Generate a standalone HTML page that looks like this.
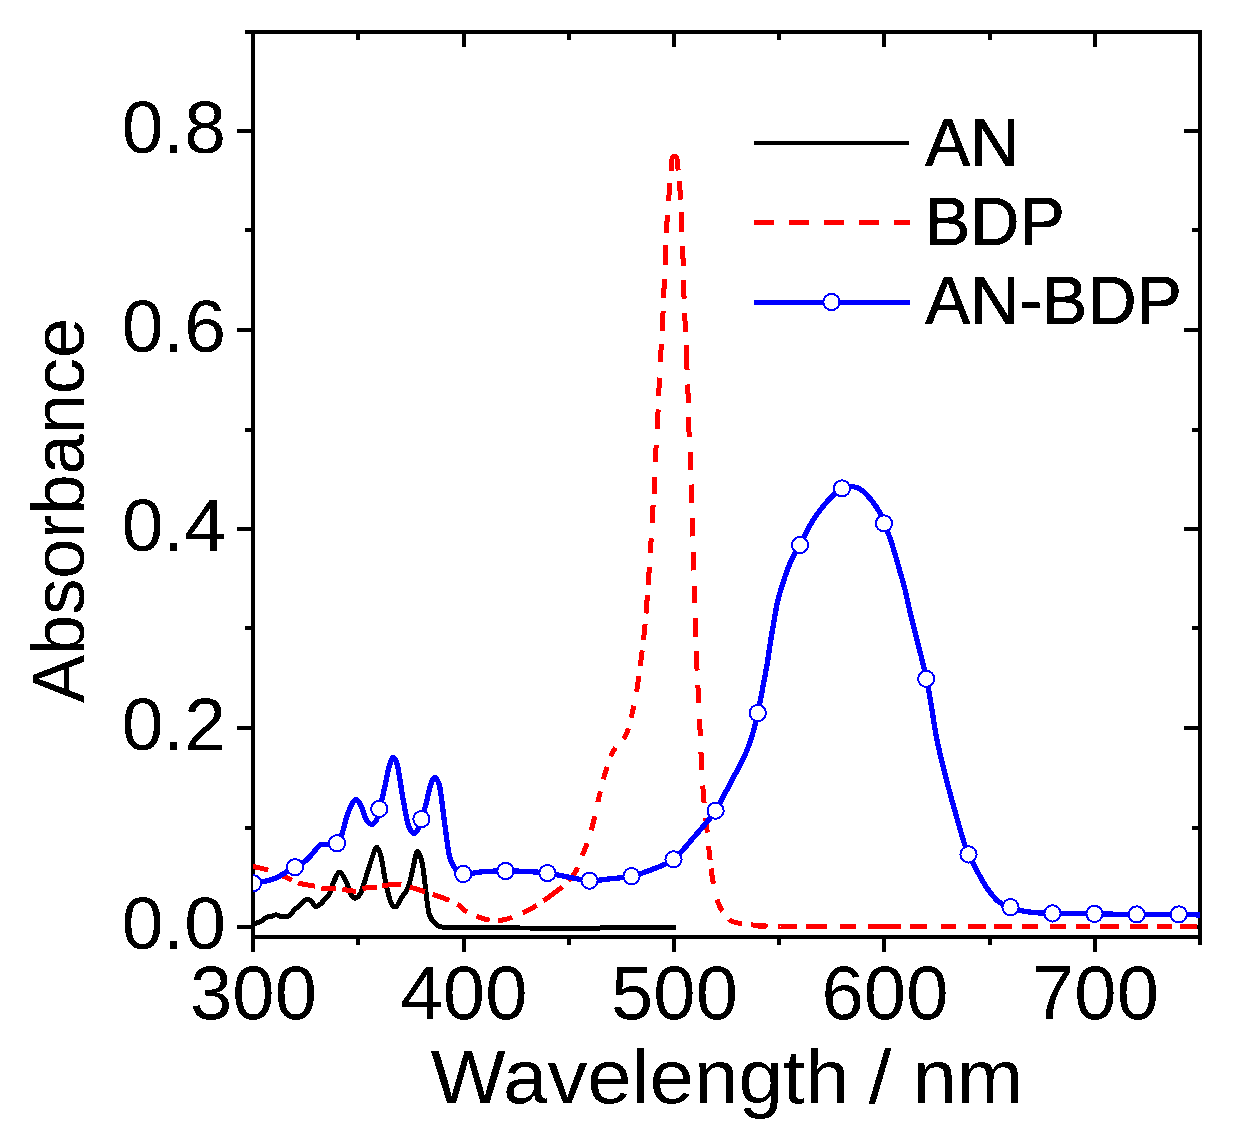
<!DOCTYPE html>
<html><head><meta charset="utf-8"><title>Absorbance spectra</title>
<style>html,body{margin:0;padding:0;background:#fff;width:1260px;height:1138px;overflow:hidden}
svg{display:block;font-family:"Liberation Sans",sans-serif}</style></head>
<body>
<svg width="1260" height="1138" viewBox="0 0 1260 1138" shape-rendering="crispEdges">
<defs><clipPath id="pa"><rect x="253" y="32" width="947" height="905"/></clipPath><filter id="bin" x="0" y="0" width="1260" height="1138" filterUnits="userSpaceOnUse"><feComponentTransfer><feFuncA type="discrete" tableValues="0 1"/></feComponentTransfer></filter></defs>
<rect width="1260" height="1138" fill="#fff"/>
<g fill="#000">
<rect x="251" y="30" width="951" height="4"/>
<rect x="251" y="935" width="951" height="4"/>
<rect x="251" y="30" width="4" height="909"/>
<rect x="1198" y="30" width="4" height="909"/>
<rect x="251" y="939" width="4" height="13"/>
<rect x="251" y="34" width="4" height="13"/>
<rect x="356" y="939" width="4" height="6"/>
<rect x="356" y="34" width="4" height="6"/>
<rect x="462" y="939" width="4" height="13"/>
<rect x="462" y="34" width="4" height="13"/>
<rect x="567" y="939" width="4" height="6"/>
<rect x="567" y="34" width="4" height="6"/>
<rect x="672" y="939" width="4" height="13"/>
<rect x="672" y="34" width="4" height="13"/>
<rect x="777" y="939" width="4" height="6"/>
<rect x="777" y="34" width="4" height="6"/>
<rect x="882" y="939" width="4" height="13"/>
<rect x="882" y="34" width="4" height="13"/>
<rect x="988" y="939" width="4" height="6"/>
<rect x="988" y="34" width="4" height="6"/>
<rect x="1093" y="939" width="4" height="13"/>
<rect x="1093" y="34" width="4" height="13"/>
<rect x="1198" y="939" width="4" height="6"/>
<rect x="1198" y="34" width="4" height="6"/>
<rect x="237" y="925" width="14" height="4"/>
<rect x="1184" y="925" width="14" height="4"/>
<rect x="245" y="826" width="6" height="4"/>
<rect x="1192" y="826" width="6" height="4"/>
<rect x="237" y="726" width="14" height="4"/>
<rect x="1184" y="726" width="14" height="4"/>
<rect x="245" y="626" width="6" height="4"/>
<rect x="1192" y="626" width="6" height="4"/>
<rect x="237" y="527" width="14" height="4"/>
<rect x="1184" y="527" width="14" height="4"/>
<rect x="245" y="428" width="6" height="4"/>
<rect x="1192" y="428" width="6" height="4"/>
<rect x="237" y="328" width="14" height="4"/>
<rect x="1184" y="328" width="14" height="4"/>
<rect x="245" y="228" width="6" height="4"/>
<rect x="1192" y="228" width="6" height="4"/>
<rect x="237" y="129" width="14" height="4"/>
<rect x="1184" y="129" width="14" height="4"/>
<rect x="245" y="30" width="6" height="4"/>
<rect x="1192" y="30" width="6" height="4"/>
</g>
<g clip-path="url(#pa)" fill="none" stroke-linejoin="round">
<path d="M253.5,924.0 C254.7,923.5 258.6,922.4 260.8,921.3 C263.0,920.2 264.7,918.4 266.5,917.5 C268.3,916.6 270.0,916.6 271.6,916.2 C273.2,915.8 274.5,914.9 276.0,914.9 C277.5,914.9 278.9,915.9 280.5,916.2 C282.1,916.5 284.1,916.6 285.6,916.5 C287.1,916.4 287.9,916.7 289.4,915.6 C290.9,914.5 292.7,911.5 294.4,909.8 C296.1,908.1 297.8,907.0 299.5,905.4 C301.2,903.8 303.2,901.3 304.6,900.3 C306.0,899.3 306.9,899.5 308.0,899.6 C309.1,899.7 309.9,899.7 311.0,900.8 C312.1,901.9 313.6,905.1 314.6,906.0 C315.7,906.9 316.2,906.6 317.3,906.2 C318.4,905.8 319.6,904.9 321.1,903.5 C322.6,902.1 324.8,899.4 326.2,897.8 C327.6,896.2 328.0,896.9 329.4,894.0 C330.8,891.1 332.6,884.3 334.3,880.6 C336.0,876.9 337.7,872.0 339.6,872.0 C341.5,872.0 343.9,876.8 345.8,880.6 C347.7,884.4 349.4,891.7 351.0,894.6 C352.6,897.5 353.5,898.4 355.1,898.1 C356.7,897.8 358.9,896.4 360.7,892.9 C362.5,889.4 364.1,882.9 366.0,877.0 C367.9,871.1 370.4,862.7 372.1,857.7 C373.9,852.7 375.0,847.5 376.5,847.2 C378.0,846.9 379.4,850.4 380.9,856.0 C382.4,861.6 383.7,873.0 385.3,880.6 C386.9,888.2 388.9,897.3 390.6,901.7 C392.4,906.1 394.1,907.5 395.8,906.9 C397.6,906.3 399.1,901.3 401.1,898.1 C403.2,894.9 406.1,892.9 408.1,887.6 C410.2,882.3 411.9,872.5 413.4,866.5 C414.9,860.5 415.7,852.0 417.2,851.4 C418.7,850.8 420.8,856.7 422.2,863.0 C423.6,869.3 424.5,880.9 425.7,889.4 C426.9,897.9 427.4,908.1 429.2,914.0 C431.0,919.9 433.9,922.3 436.3,924.5 C438.7,926.7 437.8,926.6 443.3,927.1 C448.9,927.6 456.8,927.5 469.6,927.6 C482.4,927.8 498.3,927.9 520.0,928.0 C541.7,928.1 574.0,928.1 600.0,928.0 C626.0,927.9 663.3,927.6 676.0,927.5" stroke="#000" stroke-width="5" stroke-linecap="butt"/>
<path d="M253.0,866.5 253.5,866.6 254.0,866.7 254.5,866.8 255.0,866.9 255.4,867.0 255.9,867.1 256.4,867.2 256.9,867.3 257.4,867.4 257.9,867.5 258.4,867.6 258.9,867.7 259.4,867.8 259.8,868.0 260.3,868.1 260.8,868.2 261.3,868.3 261.8,868.4 262.3,868.5 262.8,868.6 263.3,868.8 263.7,868.9 264.2,869.0 264.7,869.1 265.2,869.3 265.7,869.4 266.1,869.5 266.6,869.7 267.1,869.8 267.6,870.0 268.1,870.2M281.1,875.3 281.5,875.5 282.0,875.7 282.5,875.9 282.9,876.1 283.4,876.3 283.8,876.5 284.3,876.7 284.8,876.9 285.2,877.0 285.7,877.2 286.1,877.4 286.6,877.6 287.0,877.9 287.5,878.1 288.0,878.3 288.4,878.5 288.9,878.7 289.3,878.9 289.8,879.1 290.2,879.3 290.7,879.6 291.1,879.8 291.6,880.0 292.0,880.2M298.0,882.8 298.5,883.0 298.9,883.1 299.4,883.3 299.9,883.4 300.4,883.5 300.8,883.7 301.3,883.8 301.8,883.9 302.3,884.0 302.8,884.1 303.3,884.2 303.8,884.3 304.3,884.4 304.8,884.5 305.3,884.5 305.8,884.6 306.3,884.7 306.7,884.8 307.2,884.8 307.7,884.9 308.2,885.0 308.7,885.0 309.2,885.1 309.7,885.2 310.2,885.3 310.7,885.3 311.2,885.4 311.7,885.5 312.2,885.6 312.7,885.7 313.2,885.8 313.7,885.9 314.1,886.0 314.6,886.1 315.1,886.2M321.3,888.1 321.8,888.2 322.3,888.3 322.8,888.4 323.3,888.4 323.8,888.5 324.3,888.5 324.8,888.6 325.3,888.6 325.8,888.6 326.3,888.6 326.8,888.6 327.3,888.6 327.8,888.6 328.3,888.6 328.8,888.6 329.3,888.6 329.8,888.5 330.3,888.5 330.8,888.5 331.3,888.5 331.8,888.4 332.3,888.4 332.8,888.4 333.3,888.4 333.8,888.4 334.3,888.4 334.8,888.4 335.3,888.4 335.8,888.4M342.2,889.1 342.7,889.2 343.2,889.3 343.7,889.4 344.2,889.5 344.7,889.6 345.2,889.7 345.7,889.8 346.2,889.9 346.7,890.0 347.2,890.1 347.6,890.2 348.1,890.2 348.6,890.3 349.1,890.4 349.6,890.5 350.1,890.6 350.6,890.7 351.1,890.8 351.6,890.8 352.1,890.9 352.6,890.9 353.1,891.0 353.6,891.0 354.1,891.1 354.6,891.1 355.1,891.1 355.6,891.1M362.7,889.0 363.2,888.8 363.6,888.6 364.1,888.4 364.6,888.2 365.0,888.1 365.5,887.9 366.0,887.8 366.5,887.7 367.0,887.6 367.5,887.6 368.0,887.5 368.5,887.5 369.0,887.5 369.5,887.5 370.0,887.5 370.5,887.5 371.0,887.5 371.5,887.5 372.0,887.5 372.5,887.5 373.0,887.5 373.5,887.4 374.0,887.4 374.5,887.3 375.0,887.3 375.5,887.2 376.0,887.1 376.5,887.0 376.9,887.0M381.9,886.0 382.4,885.9 382.8,885.9 383.3,885.8 383.8,885.7 384.3,885.6 384.8,885.5 385.3,885.4 385.8,885.3 386.3,885.3 386.8,885.2 387.3,885.1 387.8,885.0 388.3,884.9 388.8,884.9 389.3,884.8 389.8,884.7 390.3,884.7 390.7,884.6 391.2,884.6 391.7,884.5 392.2,884.5 392.7,884.4 393.2,884.3 393.7,884.3 394.2,884.2 394.7,884.2 395.2,884.1 395.7,884.1 396.2,884.1 396.7,884.1 397.2,884.1 397.7,884.1 398.2,884.2 398.7,884.2 399.2,884.3 399.7,884.3 400.2,884.4 400.7,884.5 401.2,884.6M409.8,887.0 410.3,887.2 410.8,887.3 411.3,887.5 411.8,887.6 412.2,887.8 412.7,887.9 413.2,888.0 413.7,888.2 414.2,888.3 414.6,888.5 415.1,888.6 415.6,888.8 416.1,888.9 416.6,889.1 417.0,889.2 417.5,889.4 418.0,889.5 418.5,889.7 418.9,889.8 419.4,890.0 419.9,890.1 420.4,890.3 420.8,890.4 421.3,890.6 421.8,890.7 422.3,890.9 422.7,891.0 423.2,891.2 423.7,891.3 424.2,891.5 424.6,891.7 425.1,891.8M432.7,894.3 433.2,894.5 433.7,894.7 434.1,894.8 434.6,895.0 435.1,895.1 435.6,895.3 436.0,895.5 436.5,895.6 437.0,895.8 437.4,896.0 437.9,896.1 438.4,896.3 438.9,896.5 439.3,896.6 439.8,896.8 440.3,897.0 440.7,897.1 441.2,897.3 441.7,897.5 442.1,897.7 442.6,897.8 443.1,898.0 443.5,898.2 444.0,898.4 444.5,898.6 444.9,898.7 445.4,898.9 445.9,899.1 446.3,899.3 446.8,899.5 447.3,899.7 447.7,899.8 448.2,900.0 448.7,900.2 449.1,900.4M457.2,904.3 457.7,904.5 458.1,904.8 458.5,905.1 458.9,905.4 459.3,905.7 459.7,906.0 460.1,906.3 460.4,906.6 460.8,907.0 461.2,907.3 461.5,907.7 461.9,908.0 462.3,908.4 462.6,908.7 463.0,909.0 463.4,909.4 463.8,909.7 464.2,910.0 464.6,910.3 465.0,910.6 465.4,910.8 465.8,911.1 466.3,911.3 466.7,911.6 467.1,911.8M476.6,916.3 477.1,916.5 477.6,916.7 478.0,916.9 478.5,917.0 479.0,917.2 479.4,917.4 479.9,917.6 480.4,917.7 480.8,917.9 481.3,918.1 481.8,918.2 482.3,918.4 482.7,918.5 483.2,918.7 483.7,918.8 484.2,918.9 484.7,919.1 485.2,919.2 485.6,919.3 486.1,919.4 486.6,919.5 487.1,919.6 487.6,919.8 488.1,919.9 488.6,919.9 489.1,920.0 489.6,920.1M498.0,920.6 498.5,920.5 499.0,920.5 499.5,920.4 500.0,920.4 500.5,920.3 501.0,920.3 501.5,920.2 502.0,920.1 502.5,920.0 503.0,919.9 503.5,919.8 504.0,919.7 504.4,919.6 504.9,919.5 505.4,919.4 505.9,919.3 506.4,919.1 506.9,919.0 507.4,918.9 507.8,918.7 508.3,918.6 508.8,918.4 509.3,918.3 509.7,918.1 510.2,918.0 510.7,917.8 511.2,917.6 511.6,917.5 512.1,917.3M522.7,912.9 523.2,912.7 523.6,912.5 524.1,912.3 524.5,912.1 525.0,911.9 525.4,911.6 525.9,911.4 526.3,911.2 526.8,911.0 527.2,910.8 527.7,910.5 528.1,910.3 528.6,910.1 529.0,909.8 529.5,909.6 529.9,909.4 530.3,909.1 530.8,908.9 531.2,908.6 531.6,908.4 532.1,908.1 532.5,907.9 532.9,907.6 533.4,907.4 533.8,907.1 534.2,906.9 534.6,906.6 535.1,906.3 535.5,906.1 535.9,905.8 536.3,905.5 536.8,905.3M543.4,900.7 543.8,900.5 544.2,900.2 544.6,899.9 545.0,899.6 545.4,899.3 545.8,899.0 546.2,898.7 546.6,898.4 547.0,898.2 547.5,897.9 547.9,897.6 548.3,897.3 548.7,897.0 549.1,896.7 549.5,896.4 549.9,896.1 550.3,895.8 550.7,895.5 551.1,895.2 551.5,894.9 551.9,894.7 552.3,894.4 552.7,894.1 553.1,893.8 553.5,893.5 553.9,893.2 554.3,892.9 554.7,892.6 555.1,892.3 555.5,892.0 555.9,891.7 556.3,891.3 556.7,891.0 557.1,890.7 557.5,890.4 557.9,890.1 558.3,889.8 558.7,889.5 559.1,889.2 559.5,888.9 559.9,888.6 560.3,888.3 560.6,888.0 561.0,887.7 561.4,887.3 561.8,887.0 562.2,886.7M568.5,881.0 568.8,880.6 569.1,880.2 569.5,879.9 569.8,879.5 570.1,879.1 570.4,878.7 570.7,878.3 571.1,877.9 571.4,877.6 571.7,877.2 572.0,876.8 572.3,876.4 572.6,876.0 572.9,875.6 573.2,875.2 573.5,874.8 573.8,874.4 574.1,874.0 574.4,873.5 574.6,873.1 574.9,872.7 575.2,872.3 575.4,871.9 575.7,871.4 575.9,871.0 576.2,870.6 576.4,870.1 576.7,869.7 576.9,869.2 577.1,868.8 577.3,868.3 577.5,867.9 577.7,867.4M582.0,855.7 582.2,855.2 582.4,854.8 582.6,854.3 582.8,853.8 583.0,853.4 583.2,852.9 583.4,852.5 583.6,852.0 583.8,851.5 584.0,851.1 584.2,850.6 584.4,850.2 584.6,849.7 584.8,849.3 585.0,848.8 585.2,848.3 585.4,847.9 585.6,847.4 585.8,847.0 586.0,846.5 586.1,846.0 586.3,845.6 586.5,845.1 586.7,844.6 586.8,844.1 587.0,843.7 587.2,843.2M591.2,830.3 591.3,829.8 591.5,829.4 591.6,828.9 591.7,828.4 591.9,827.9 592.0,827.4 592.1,826.9 592.3,826.5 592.4,826.0 592.5,825.5 592.6,825.0 592.8,824.5 592.9,824.0 593.0,823.6 593.1,823.1 593.3,822.6 593.4,822.1 593.5,821.6 593.6,821.1 593.7,820.6 593.8,820.2 594.0,819.7 594.1,819.2 594.2,818.7 594.3,818.2 594.4,817.7 594.5,817.2 594.6,816.7 594.7,816.3M597.9,802.1 598.0,801.6 598.1,801.1 598.2,800.6 598.3,800.2 598.4,799.7 598.5,799.2 598.6,798.7 598.8,798.2 598.9,797.7 599.0,797.2 599.1,796.7 599.2,796.3 599.3,795.8 599.4,795.3 599.6,794.8 599.7,794.3 599.8,793.8 599.9,793.3 600.0,792.8 600.1,792.4 600.2,791.9 600.3,791.4M603.3,779.3 603.5,778.8 603.6,778.3 603.8,777.8 603.9,777.3 604.0,776.9 604.2,776.4 604.3,775.9 604.5,775.4 604.6,774.9 604.8,774.5 604.9,774.0 605.1,773.5 605.2,773.0 605.4,772.5 605.5,772.1 605.7,771.6 605.8,771.1 606.0,770.6 606.1,770.2 606.2,769.7 606.4,769.2 606.5,768.7 606.7,768.3 606.9,767.8 607.0,767.3 607.2,766.8M610.9,756.5 611.0,756.0 611.2,755.5 611.4,755.1 611.6,754.6 611.8,754.2 612.0,753.7 612.2,753.3 612.5,752.8 612.7,752.4 612.9,751.9 613.1,751.5 613.3,751.0 613.6,750.6 613.8,750.1 614.1,749.7 614.4,749.3 614.6,748.9 614.9,748.5 615.2,748.1 615.5,747.7M623.7,738.9 624.0,738.5 624.2,738.1 624.5,737.6 624.8,737.2 625.0,736.8 625.3,736.3 625.5,735.9 625.7,735.5 625.9,735.0 626.1,734.5 626.3,734.1 626.5,733.6 626.7,733.2 626.9,732.7 627.1,732.2 627.2,731.8 627.4,731.3 627.6,730.8 627.7,730.3 627.9,729.9 628.0,729.4 628.2,728.9 628.3,728.4M631.1,717.8 631.3,717.3 631.4,716.8 631.5,716.3 631.6,715.8 631.7,715.4 631.8,714.9 631.9,714.4 632.0,713.9 632.1,713.4 632.2,712.9 632.4,712.4 632.5,711.9 632.6,711.5 632.7,711.0 632.8,710.5 632.9,710.0 633.0,709.5 633.1,709.0 633.2,708.5 633.3,708.0 633.4,707.6 633.6,707.1 633.7,706.6 633.8,706.1 633.9,705.6M636.5,691.9 636.6,691.4 636.7,690.9 636.7,690.4 636.8,689.9 636.9,689.4 637.0,688.9 637.0,688.4 637.1,687.9 637.2,687.4 637.3,686.9 637.3,686.4 637.4,685.9 637.5,685.4 637.6,684.9 637.6,684.4 637.7,683.9 637.8,683.5 637.9,683.0 637.9,682.5 638.0,682.0 638.1,681.5 638.2,681.0 638.2,680.5 638.3,680.0 638.4,679.5 638.4,679.0 638.5,678.5 638.6,678.0 638.6,677.5 638.7,677.0 638.8,676.5 638.8,676.0M640.2,666.1 640.2,665.6 640.3,665.1 640.4,664.6 640.4,664.1 640.5,663.6 640.6,663.1 640.6,662.6 640.7,662.1 640.8,661.7 640.8,661.2 640.9,660.7 641.0,660.2 641.0,659.7 641.1,659.2 641.2,658.7 641.2,658.2 641.3,657.7 641.4,657.2 641.4,656.7 641.5,656.2 641.6,655.7 641.6,655.2 641.7,654.7 641.7,654.2 641.8,653.7 641.9,653.2 641.9,652.7 642.0,652.2 642.1,651.7 642.1,651.2 642.2,650.7 642.3,650.3M643.5,640.3 643.5,639.8 643.6,639.3 643.6,638.8 643.7,638.3 643.7,637.8 643.8,637.3 643.8,636.8 643.9,636.3 643.9,635.8 644.0,635.3 644.0,634.9 644.1,634.4 644.1,633.9 644.2,633.4 644.2,632.9 644.3,632.4 644.3,631.9 644.4,631.4 644.4,630.9 644.5,630.4 644.5,629.9 644.6,629.4 644.6,628.9 644.6,628.4 644.7,627.9 644.7,627.4 644.8,626.9 644.8,626.4 644.9,625.9 644.9,625.4 645.0,624.9 645.0,624.4M645.9,613.4 646.0,612.9 646.0,612.4 646.1,611.9 646.1,611.4 646.1,610.9 646.2,610.4 646.2,610.0 646.3,609.5 646.3,609.0 646.4,608.5 646.4,608.0 646.4,607.5 646.5,607.0 646.5,606.5 646.6,606.0 646.6,605.5 646.6,605.0 646.7,604.5 646.7,604.0 646.7,603.5 646.8,603.0 646.8,602.5 646.9,602.0 646.9,601.5 646.9,601.0 647.0,600.5 647.0,600.0 647.0,599.5 647.1,599.0 647.1,598.5 647.2,598.0 647.2,597.5 647.2,597.0 647.3,596.5 647.3,596.0 647.3,595.5 647.4,595.0M648.1,585.0 648.1,584.5 648.2,584.0 648.2,583.5 648.2,583.0 648.3,582.5 648.3,582.0 648.3,581.5 648.4,581.0 648.4,580.5 648.4,580.0 648.5,579.5 648.5,579.0 648.5,578.5 648.6,578.0 648.6,577.5 648.6,577.0 648.7,576.5 648.7,576.0 648.8,575.5 648.8,575.0 648.8,574.5 648.9,574.0 648.9,573.5 648.9,573.0 649.0,572.6 649.0,572.1 649.0,571.6 649.1,571.1 649.1,570.6 649.1,570.1 649.2,569.6 649.2,569.1 649.2,568.6 649.3,568.1 649.3,567.6 649.3,567.1M650.3,553.1 650.3,552.6 650.3,552.1 650.4,551.6 650.4,551.1 650.4,550.6 650.5,550.1 650.5,549.6 650.5,549.1 650.6,548.6 650.6,548.1 650.6,547.6 650.7,547.1 650.7,546.6 650.7,546.1 650.7,545.6 650.8,545.1 650.8,544.6 650.8,544.1 650.9,543.6 650.9,543.1 650.9,542.6 650.9,542.1 651.0,541.6 651.0,541.1 651.0,540.6 651.1,540.1 651.1,539.6 651.1,539.1 651.1,538.6 651.2,538.1M652.0,523.1 652.0,522.6 652.0,522.1 652.0,521.6 652.1,521.1 652.1,520.6 652.1,520.1 652.1,519.6 652.2,519.1 652.2,518.6 652.2,518.1 652.3,517.7 652.3,517.2 652.3,516.7 652.3,516.2 652.4,515.7 652.4,515.2 652.4,514.7 652.5,514.2 652.5,513.7 652.5,513.2 652.6,512.7 652.6,512.2 652.6,511.7 652.7,511.2 652.7,510.7 652.7,510.2 652.8,509.7 652.8,509.2 652.8,508.7 652.9,508.2 652.9,507.7 652.9,507.2 653.0,506.7 653.0,506.2 653.1,505.7 653.1,505.2 653.1,504.7M654.0,493.7 654.0,493.2 654.0,492.7 654.1,492.2 654.1,491.7 654.1,491.2 654.2,490.7 654.2,490.2 654.2,489.7 654.3,489.2 654.3,488.7 654.3,488.2 654.4,487.7 654.4,487.2 654.4,486.7 654.5,486.2 654.5,485.7 654.5,485.2 654.5,484.7 654.6,484.2 654.6,483.7 654.6,483.2 654.6,482.7 654.7,482.2 654.7,481.7 654.7,481.2 654.7,480.7 654.8,480.2 654.8,479.7 654.8,479.2 654.8,478.7 654.9,478.2 654.9,477.7 654.9,477.2 654.9,476.7M655.5,461.7 655.5,461.2 655.5,460.7 655.5,460.2 655.5,459.8 655.5,459.3 655.6,458.8 655.6,458.3 655.6,457.8 655.6,457.3 655.6,456.8 655.7,456.3 655.7,455.8 655.7,455.3 655.7,454.8 655.7,454.3 655.7,453.8 655.8,453.3 655.8,452.8 655.8,452.3 655.8,451.8 655.8,451.3 655.9,450.8 655.9,450.3 655.9,449.8 655.9,449.3 655.9,448.8 656.0,448.3 656.0,447.8 656.0,447.3 656.0,446.8 656.0,446.3 656.1,445.8 656.1,445.3 656.1,444.8M657.1,428.8 657.1,428.3 657.1,427.8 657.2,427.3 657.2,426.8 657.2,426.3 657.3,425.8 657.3,425.3 657.3,424.8 657.3,424.3 657.4,423.8 657.4,423.3 657.4,422.8 657.5,422.3 657.5,421.8 657.5,421.3 657.5,420.8 657.6,420.3 657.6,419.8 657.6,419.3 657.6,418.8 657.7,418.3 657.7,417.8 657.7,417.3 657.7,416.8 657.8,416.3 657.8,415.8 657.8,415.3 657.8,414.8 657.9,414.3 657.9,413.8 657.9,413.3 657.9,412.8 657.9,412.3 658.0,411.8 658.0,411.3 658.0,410.8 658.0,410.3 658.0,409.8 658.1,409.3M658.6,395.8 658.6,395.3 658.7,394.8 658.7,394.3 658.7,393.8 658.7,393.3 658.7,392.8 658.8,392.3 658.8,391.8 658.8,391.3 658.8,390.8 658.9,390.3 658.9,389.8 658.9,389.3 658.9,388.8 659.0,388.3 659.0,387.8 659.0,387.3 659.0,386.8 659.0,386.3 659.1,385.8 659.1,385.3 659.1,384.8 659.1,384.3 659.2,383.8 659.2,383.3 659.2,382.8 659.2,382.3 659.3,381.8 659.3,381.3 659.3,380.8 659.3,380.3 659.4,379.8 659.4,379.3 659.4,378.8 659.4,378.3 659.5,377.8M660.3,362.4 660.3,361.9 660.4,361.4 660.4,360.9 660.4,360.4 660.4,359.9 660.5,359.4 660.5,358.9 660.5,358.4 660.5,357.9 660.6,357.4 660.6,356.9 660.6,356.4 660.7,355.9 660.7,355.4 660.7,354.9 660.7,354.4 660.8,353.9 660.8,353.4 660.8,352.9 660.8,352.4 660.9,351.9 660.9,351.4 660.9,350.9 661.0,350.4 661.0,349.9 661.0,349.4 661.0,348.9 661.1,348.4 661.1,347.9 661.1,347.4 661.2,346.9 661.2,346.4 661.2,345.9 661.2,345.4 661.3,344.9 661.3,344.4M662.1,330.9 662.1,330.4 662.1,329.9 662.2,329.4 662.2,328.9 662.2,328.4 662.3,327.9 662.3,327.4 662.3,326.9 662.3,326.4 662.4,325.9 662.4,325.4 662.4,324.9 662.4,324.4 662.5,323.9 662.5,323.4 662.5,322.9 662.5,322.4 662.6,321.9 662.6,321.4 662.6,320.9 662.6,320.4 662.7,319.9 662.7,319.4 662.7,318.9 662.7,318.4 662.8,317.9 662.8,317.4 662.8,316.9 662.8,316.4 662.8,315.9 662.9,315.4 662.9,314.9 662.9,314.4 662.9,313.9 663.0,313.4 663.0,312.9 663.0,312.4 663.0,311.9 663.0,311.4M663.6,297.5 663.6,297.0 663.6,296.5 663.7,296.0 663.7,295.5 663.7,295.0 663.7,294.5 663.7,294.0 663.8,293.5 663.8,293.0 663.8,292.5 663.8,292.0 663.8,291.5 663.9,291.0 663.9,290.5 663.9,290.0 663.9,289.5 663.9,289.0 664.0,288.5 664.0,288.0 664.0,287.5 664.0,287.0 664.0,286.5 664.1,286.0 664.1,285.5 664.1,285.0 664.1,284.5 664.2,284.0 664.2,283.5 664.2,283.0 664.2,282.5 664.2,282.0 664.3,281.5 664.3,281.0 664.3,280.5 664.3,280.0 664.3,279.5 664.4,279.0 664.4,278.5M665.0,264.5 665.0,264.0 665.1,263.5 665.1,263.0 665.1,262.5 665.1,262.0 665.2,261.5 665.2,261.0 665.2,260.5 665.2,260.0 665.2,259.5 665.3,259.0 665.3,258.5 665.3,258.0 665.3,257.5 665.4,257.0 665.4,256.5 665.4,256.0 665.4,255.5 665.4,255.0 665.5,254.5 665.5,254.0 665.5,253.5 665.5,253.0 665.6,252.5 665.6,252.0 665.6,251.5 665.6,251.0 665.6,250.5 665.7,250.0 665.7,249.5 665.7,249.0 665.7,248.5 665.7,248.0 665.8,247.5 665.8,247.0 665.8,246.5 665.8,246.0 665.8,245.5 665.9,245.0 665.9,244.5M666.4,233.0 666.4,232.5 666.4,232.0 666.4,231.5 666.4,231.0 666.5,230.5 666.5,230.0 666.5,229.5 666.5,229.0 666.6,228.5 666.6,228.0 666.6,227.5 666.6,227.0 666.7,226.5 666.7,226.0 666.7,225.5 666.8,225.0 666.8,224.5 666.8,224.0 666.8,223.5 666.9,223.0 666.9,222.5 666.9,222.0 667.0,221.5 667.0,221.0 667.0,220.5 667.1,220.0 667.1,219.5 667.1,219.0 667.2,218.5 667.2,218.0 667.2,217.5 667.3,217.0 667.3,216.5 667.3,216.0 667.4,215.5 667.4,215.0 667.4,214.5M668.5,201.1 668.5,200.6 668.6,200.1 668.6,199.6 668.6,199.1 668.7,198.6 668.7,198.1 668.8,197.6 668.8,197.1 668.8,196.6 668.9,196.1 668.9,195.6 669.0,195.1 669.0,194.6 669.0,194.1 669.1,193.6 669.1,193.1 669.2,192.6 669.2,192.1 669.2,191.6 669.3,191.1 669.3,190.6 669.4,190.1 669.4,189.6 669.5,189.1 669.5,188.6 669.5,188.1 669.6,187.6 669.6,187.1 669.7,186.6 669.7,186.1 669.8,185.6 669.8,185.1 669.8,184.6 669.9,184.1 669.9,183.6 670.0,183.2 670.0,182.7M671.1,170.7 671.1,170.2 671.2,169.7 671.2,169.2 671.2,168.7 671.2,168.2 671.3,167.7 671.3,167.2 671.3,166.7 671.3,166.2 671.4,165.7 671.4,165.2 671.4,164.7 671.4,164.2 671.5,163.7 671.5,163.2 671.5,162.7 671.6,162.2 671.6,161.7 671.7,161.2 671.8,160.7 671.8,160.2 671.9,159.7 672.0,159.2 672.1,158.8 672.2,158.3 672.4,157.8 672.5,157.3 672.8,156.9 673.2,156.6 673.7,156.4 674.2,156.4 674.7,156.4 675.2,156.4 675.6,156.5 676.1,156.8 676.4,157.2 676.6,157.6 676.7,158.1 676.9,158.6 677.0,159.1 677.1,159.6 677.1,160.1 677.2,160.5 677.3,161.0 677.3,161.5 677.4,162.0 677.5,162.5 677.5,163.0 677.6,163.5 677.6,164.0 677.6,164.5 677.7,165.0 677.7,165.5 677.7,166.0 677.8,166.5 677.8,167.0 677.8,167.5 677.9,168.0 677.9,168.5 678.0,169.0 678.0,169.5 678.0,170.0 678.1,170.5M679.2,181.4 679.2,181.9 679.3,182.4 679.3,182.9 679.4,183.4 679.4,183.9 679.5,184.4 679.5,184.9 679.6,185.4 679.6,185.9 679.7,186.4 679.7,186.9 679.7,187.4 679.8,187.9 679.8,188.4 679.9,188.9 679.9,189.4 679.9,189.9 680.0,190.4 680.0,190.9 680.0,191.4 680.1,191.9 680.1,192.4 680.1,192.9 680.1,193.4 680.2,193.9 680.2,194.4 680.2,194.9 680.3,195.4 680.3,195.9 680.3,196.4 680.3,196.9 680.3,197.4 680.4,197.9 680.4,198.4 680.4,198.9 680.4,199.4 680.5,199.9M681.0,212.4 681.0,212.9 681.0,213.4 681.0,213.9 681.1,214.4 681.1,214.9 681.1,215.4 681.1,215.9 681.1,216.4 681.2,216.9 681.2,217.4 681.2,217.9 681.2,218.4 681.2,218.9 681.3,219.4 681.3,219.9 681.3,220.4 681.3,220.9 681.4,221.4 681.4,221.9 681.4,222.4 681.4,222.9 681.4,223.4 681.5,223.9 681.5,224.4 681.5,224.9 681.5,225.4 681.6,225.9 681.6,226.4 681.6,226.9 681.6,227.4 681.6,227.9 681.7,228.4 681.7,228.9 681.7,229.4 681.7,229.9 681.8,230.4 681.8,230.9 681.8,231.4 681.8,231.9M682.5,245.9 682.5,246.4 682.5,246.9 682.5,247.4 682.6,247.9 682.6,248.4 682.6,248.9 682.6,249.4 682.6,249.9 682.7,250.4 682.7,250.9 682.7,251.4 682.7,251.9 682.7,252.4 682.8,252.9 682.8,253.4 682.8,253.9 682.8,254.4 682.8,254.9 682.9,255.3 682.9,255.8 682.9,256.3 682.9,256.8 682.9,257.3 682.9,257.8 683.0,258.3 683.0,258.8 683.0,259.3 683.0,259.8 683.0,260.3 683.0,260.8 683.0,261.3 683.1,261.8 683.1,262.3 683.1,262.8 683.1,263.3 683.1,263.8 683.1,264.3 683.1,264.8 683.2,265.3 683.2,265.8M683.5,280.3 683.5,280.8 683.5,281.3 683.5,281.8 683.5,282.3 683.5,282.8 683.5,283.3 683.6,283.8 683.6,284.3 683.6,284.8 683.6,285.3 683.6,285.8 683.6,286.3 683.6,286.8 683.7,287.3 683.7,287.8 683.7,288.3 683.7,288.8 683.7,289.3 683.7,289.8 683.7,290.3 683.8,290.8 683.8,291.3 683.8,291.8 683.8,292.3 683.8,292.8 683.9,293.3 683.9,293.8 683.9,294.3 683.9,294.8 683.9,295.3 683.9,295.8 684.0,296.3 684.0,296.8 684.0,297.3 684.0,297.8 684.0,298.3 684.1,298.8M684.7,313.3 684.7,313.8 684.7,314.3 684.7,314.8 684.7,315.3 684.8,315.8 684.8,316.3 684.8,316.8 684.8,317.3 684.8,317.8 684.9,318.3 684.9,318.8 684.9,319.3 684.9,319.8 684.9,320.3 685.0,320.8 685.0,321.3 685.0,321.8 685.0,322.3 685.1,322.8 685.1,323.3 685.1,323.8 685.1,324.3 685.1,324.8 685.2,325.3 685.2,325.8 685.2,326.3 685.2,326.8 685.2,327.3 685.3,327.8 685.3,328.3 685.3,328.8 685.3,329.3 685.3,329.8 685.4,330.3 685.4,330.8 685.4,331.3 685.4,331.8M686.0,344.8 686.0,345.3 686.0,345.8 686.0,346.3 686.0,346.8 686.1,347.3 686.1,347.8 686.1,348.3 686.1,348.8 686.1,349.3 686.2,349.8 686.2,350.3 686.2,350.8 686.2,351.3 686.3,351.8 686.3,352.3 686.3,352.8 686.3,353.3 686.3,353.8 686.4,354.3 686.4,354.8 686.4,355.3 686.4,355.8 686.4,356.3 686.5,356.8 686.5,357.3 686.5,357.8 686.5,358.3 686.5,358.8 686.6,359.3 686.6,359.8 686.6,360.3 686.6,360.8 686.6,361.3 686.7,361.8 686.7,362.3 686.7,362.8 686.7,363.3 686.8,363.8 686.8,364.3 686.8,364.8 686.8,365.3 686.8,365.8 686.9,366.3 686.9,366.8 686.9,367.3 686.9,367.8 686.9,368.3 687.0,368.8 687.0,369.3 687.0,369.8M687.6,384.3 687.7,384.8 687.7,385.3 687.7,385.8 687.7,386.3 687.7,386.8 687.7,387.3 687.8,387.8 687.8,388.3 687.8,388.8 687.8,389.3 687.8,389.8 687.9,390.3 687.9,390.8 687.9,391.3 687.9,391.8 687.9,392.3 687.9,392.8 688.0,393.3 688.0,393.8 688.0,394.3 688.0,394.8 688.0,395.3 688.0,395.8 688.1,396.3 688.1,396.7 688.1,397.2 688.1,397.7 688.1,398.2 688.1,398.7 688.1,399.2 688.2,399.7 688.2,400.2 688.2,400.7 688.2,401.2 688.2,401.7 688.2,402.2 688.2,402.7M688.5,417.2 688.5,417.7 688.5,418.2 688.5,418.7 688.5,419.2 688.6,419.7 688.6,420.2 688.6,420.7 688.6,421.2 688.6,421.7 688.6,422.2 688.6,422.7 688.6,423.2 688.7,423.7 688.7,424.2 688.7,424.7 688.7,425.2 688.7,425.7 688.7,426.2 688.8,426.7 688.8,427.2 688.8,427.7 688.8,428.2 688.8,428.7 688.8,429.2 688.9,429.7 688.9,430.2 688.9,430.7 688.9,431.2 688.9,431.7 689.0,432.2 689.0,432.7 689.0,433.2 689.0,433.7 689.1,434.2 689.1,434.7 689.1,435.2 689.1,435.7 689.2,436.2 689.2,436.7 689.2,437.2M690.1,452.2 690.1,452.7 690.1,453.2 690.1,453.7 690.2,454.2 690.2,454.7 690.2,455.2 690.2,455.7 690.2,456.2 690.3,456.7 690.3,457.2 690.3,457.7 690.3,458.2 690.4,458.7 690.4,459.2 690.4,459.7 690.4,460.2 690.4,460.7 690.4,461.2 690.5,461.7 690.5,462.2 690.5,462.7 690.5,463.2 690.5,463.7 690.5,464.2 690.6,464.7 690.6,465.2 690.6,465.7 690.6,466.2 690.6,466.7 690.6,467.2 690.6,467.7 690.7,468.2 690.7,468.7 690.7,469.2 690.7,469.7 690.7,470.2M691.0,484.7 691.1,485.2 691.1,485.7 691.1,486.2 691.1,486.7 691.1,487.2 691.1,487.7 691.1,488.2 691.1,488.7 691.1,489.2 691.2,489.7 691.2,490.2 691.2,490.7 691.2,491.2 691.2,491.7 691.2,492.2 691.2,492.7 691.2,493.2 691.2,493.7 691.3,494.2 691.3,494.7 691.3,495.2 691.3,495.7 691.3,496.2 691.3,496.7 691.3,497.2 691.4,497.7 691.4,498.2 691.4,498.7 691.4,499.2 691.4,499.7 691.4,500.2 691.4,500.7 691.5,501.2 691.5,501.7 691.5,502.2 691.5,502.7 691.5,503.2M692.0,518.2 692.0,518.7 692.0,519.2 692.0,519.7 692.0,520.2 692.0,520.7 692.1,521.2 692.1,521.7 692.1,522.2 692.1,522.7 692.1,523.2 692.1,523.7 692.2,524.2 692.2,524.7 692.2,525.2 692.2,525.7 692.2,526.2 692.2,526.7 692.3,527.2 692.3,527.7 692.3,528.2 692.3,528.7 692.3,529.2 692.3,529.7 692.4,530.2 692.4,530.7 692.4,531.2 692.4,531.7 692.4,532.2 692.4,532.7 692.5,533.2 692.5,533.7 692.5,534.2 692.5,534.7 692.5,535.2 692.5,535.7 692.6,536.2M693.1,551.7 693.1,552.2 693.1,552.7 693.1,553.2 693.2,553.7 693.2,554.2 693.2,554.7 693.2,555.2 693.2,555.7 693.2,556.2 693.3,556.7 693.3,557.2 693.3,557.7 693.3,558.2 693.3,558.7 693.3,559.2 693.3,559.7 693.4,560.2 693.4,560.7 693.4,561.2 693.4,561.7 693.4,562.2 693.4,562.7 693.5,563.2 693.5,563.7 693.5,564.2 693.5,564.7 693.5,565.2 693.5,565.7 693.5,566.2 693.6,566.7 693.6,567.2 693.6,567.7 693.6,568.2 693.6,568.7 693.6,569.2 693.6,569.7 693.7,570.2M694.1,585.6 694.1,586.1 694.1,586.6 694.1,587.1 694.1,587.6 694.1,588.1 694.1,588.6 694.2,589.1 694.2,589.6 694.2,590.1 694.2,590.6 694.2,591.1 694.2,591.6 694.2,592.1 694.3,592.6 694.3,593.1 694.3,593.6 694.3,594.1 694.3,594.6 694.3,595.1 694.3,595.6 694.4,596.1 694.4,596.6 694.4,597.1 694.4,597.6 694.4,598.1 694.4,598.6 694.5,599.1 694.5,599.6 694.5,600.1 694.5,600.6 694.5,601.1 694.5,601.6 694.6,602.1 694.6,602.6 694.6,603.1M695.1,618.1 695.1,618.6 695.1,619.1 695.1,619.6 695.2,620.1 695.2,620.6 695.2,621.1 695.2,621.6 695.2,622.1 695.2,622.6 695.3,623.1 695.3,623.6 695.3,624.1 695.3,624.6 695.3,625.1 695.3,625.6 695.4,626.1 695.4,626.6 695.4,627.1 695.4,627.6 695.4,628.1 695.5,628.6 695.5,629.1 695.5,629.6 695.5,630.1 695.5,630.6 695.5,631.1 695.6,631.6 695.6,632.1 695.6,632.6 695.6,633.1 695.6,633.6 695.6,634.1 695.7,634.6 695.7,635.1 695.7,635.6 695.7,636.1 695.7,636.6M696.2,651.1 696.3,651.6 696.3,652.1 696.3,652.6 696.3,653.1 696.3,653.6 696.3,654.1 696.4,654.6 696.4,655.1 696.4,655.6 696.4,656.1 696.4,656.6 696.5,657.1 696.5,657.6 696.5,658.1 696.5,658.6 696.5,659.1 696.6,659.6 696.6,660.1 696.6,660.6 696.6,661.1 696.6,661.6 696.7,662.1 696.7,662.6 696.7,663.1 696.7,663.6 696.8,664.1 696.8,664.6 696.8,665.1 696.8,665.6 696.8,666.1 696.9,666.6 696.9,667.1 696.9,667.6 696.9,668.1 697.0,668.6 697.0,669.1 697.0,669.6 697.0,670.1 697.1,670.6M697.8,684.6 697.8,685.1 697.8,685.6 697.9,686.1 697.9,686.6 697.9,687.1 697.9,687.6 698.0,688.1 698.0,688.6 698.0,689.1 698.0,689.6 698.1,690.1 698.1,690.6 698.1,691.1 698.1,691.6 698.2,692.1 698.2,692.6 698.2,693.1 698.2,693.6 698.3,694.1 698.3,694.6 698.3,695.1 698.3,695.6 698.4,696.1 698.4,696.6 698.4,697.1 698.4,697.6 698.5,698.1 698.5,698.6 698.5,699.1 698.5,699.6 698.6,700.1 698.6,700.6 698.6,701.1 698.6,701.6 698.7,702.1 698.7,702.6M699.5,719.0 699.5,719.5 699.5,720.0 699.6,720.5 699.6,721.0 699.6,721.5 699.6,722.0 699.7,722.5 699.7,723.0 699.7,723.5 699.7,724.0 699.7,724.5 699.8,725.0 699.8,725.5 699.8,726.0 699.8,726.5 699.9,727.0 699.9,727.5 699.9,728.0 699.9,728.5 699.9,729.0 700.0,729.5 700.0,730.0 700.0,730.5 700.0,731.0 700.1,731.5 700.1,732.0 700.1,732.5 700.1,733.0 700.1,733.5 700.2,734.0 700.2,734.5 700.2,735.0 700.2,735.5 700.2,736.0M700.9,751.5 700.9,752.0 700.9,752.5 700.9,753.0 701.0,753.5 701.0,754.0 701.0,754.5 701.0,755.0 701.1,755.5 701.1,756.0 701.1,756.5 701.1,757.0 701.2,757.5 701.2,758.0 701.2,758.5 701.2,759.0 701.3,759.5 701.3,760.0 701.3,760.5 701.3,761.0 701.4,761.5 701.4,762.0 701.4,762.5 701.4,763.0 701.5,763.5 701.5,764.0 701.5,764.5 701.5,765.0 701.6,765.5 701.6,766.0 701.6,766.5 701.7,767.0 701.7,767.5 701.7,768.0 701.7,768.5 701.8,769.0 701.8,769.5M702.7,785.5 702.8,785.9 702.8,786.4 702.8,786.9 702.9,787.4 702.9,787.9 702.9,788.4 703.0,788.9 703.0,789.4 703.0,789.9 703.1,790.4 703.1,790.9 703.1,791.4 703.2,791.9 703.2,792.4 703.2,792.9 703.3,793.4 703.3,793.9 703.3,794.4 703.4,794.9 703.4,795.4 703.5,795.9 703.5,796.4 703.5,796.9 703.6,797.4 703.6,797.9 703.7,798.4 703.7,798.9 703.7,799.4 703.8,799.9 703.8,800.4 703.9,800.9 703.9,801.4 704.0,801.9 704.0,802.4 704.1,802.9 704.1,803.4M705.6,817.8 705.7,818.3 705.7,818.8 705.8,819.3 705.9,819.8 705.9,820.3 706.0,820.8 706.0,821.3 706.1,821.8 706.1,822.3 706.2,822.8 706.3,823.3 706.3,823.8 706.4,824.3 706.4,824.8 706.5,825.3 706.5,825.8 706.6,826.3 706.7,826.8 706.7,827.3 706.8,827.8 706.8,828.2 706.9,828.7 706.9,829.2 707.0,829.7 707.0,830.2 707.1,830.7 707.1,831.2 707.2,831.7 707.2,832.2 707.3,832.7M708.6,845.7 708.6,846.2 708.7,846.7 708.7,847.2 708.8,847.7 708.8,848.1 708.9,848.6 708.9,849.1 709.0,849.6 709.0,850.1 709.1,850.6 709.1,851.1 709.2,851.6 709.2,852.1 709.3,852.6 709.3,853.1 709.4,853.6 709.4,854.1 709.5,854.6 709.5,855.1 709.6,855.6 709.7,856.1 709.7,856.6 709.8,857.1 709.8,857.6 709.9,858.1 709.9,858.6 710.0,859.1 710.0,859.6M711.0,868.5 711.1,869.0 711.2,869.5 711.2,870.0 711.3,870.5 711.3,871.0 711.4,871.5 711.5,872.0 711.5,872.5 711.6,873.0 711.7,873.5 711.7,874.0 711.8,874.5 711.9,875.0 712.0,875.5 712.0,876.0 712.1,876.5 712.2,877.0 712.3,877.4 712.3,877.9 712.4,878.4 712.5,878.9 712.6,879.4 712.7,879.9 712.8,880.4 712.9,880.9 713.0,881.4 713.0,881.9 713.1,882.4 713.2,882.9 713.3,883.3 713.4,883.8M716.9,899.4 717.1,899.9 717.2,900.4 717.4,900.9 717.6,901.3 717.7,901.8 717.9,902.3 718.1,902.7 718.3,903.2 718.5,903.7 718.7,904.1 718.9,904.6 719.1,905.0 719.3,905.5 719.5,905.9 719.7,906.4 719.9,906.8 720.2,907.3 720.4,907.7 720.6,908.2 720.9,908.6 721.1,909.1 721.3,909.5 721.6,909.9 721.9,910.4 722.1,910.8 722.4,911.2M729.1,919.2 729.4,919.6 729.8,919.9 730.2,920.2 730.7,920.4 731.1,920.7 731.5,921.0 732.0,921.2 732.4,921.4 732.9,921.6 733.3,921.8 733.8,922.0 734.3,922.1 734.7,922.3 735.2,922.4 735.7,922.5 736.2,922.7 736.7,922.8 737.2,922.9 737.7,923.0 738.2,923.0 738.7,923.1 739.1,923.2 739.6,923.3 740.1,923.3 740.6,923.4 741.1,923.5 741.6,923.5M750.5,924.8 751.0,924.8 751.5,924.9 752.0,924.9 752.5,925.0 753.0,925.0 753.5,925.1 754.0,925.1 754.5,925.2 755.0,925.2 755.5,925.2 756.0,925.3 756.5,925.3 757.0,925.3 757.5,925.4 758.0,925.4 758.5,925.4 759.0,925.4 759.5,925.5 760.0,925.5 760.5,925.5 761.0,925.5 761.5,925.6 762.0,925.6 762.5,925.6 763.0,925.6 763.5,925.7 764.0,925.7 764.5,925.7 765.0,925.7 765.5,925.8 765.0,925.9 764.5,925.9 764.0,925.9 763.5,926.0 763.0,926.0 762.5,926.0 762.0,926.0 761.5,926.1 761.0,926.1 760.5,926.1 760.0,926.1 759.5,926.1 759.0,926.2 758.5,926.2 759.0,926.3 759.5,926.3 760.0,926.3 760.5,926.3 761.0,926.3 761.5,926.3 762.0,926.3 762.5,926.3 763.0,926.4 763.5,926.4 764.0,926.4 764.5,926.4 765.0,926.4 765.5,926.4M778.0,926.4 778.5,926.4 779.0,926.4 779.5,926.4 780.0,926.4 780.5,926.5 781.0,926.5 781.5,926.5 782.0,926.5 782.5,926.5 783.0,926.5 783.5,926.5 784.0,926.5 784.5,926.5 785.0,926.5 785.5,926.5 786.0,926.5 786.5,926.5 787.0,926.5 787.5,926.5 788.0,926.5 788.5,926.5 789.0,926.5 789.5,926.5 790.0,926.5 790.5,926.5 791.0,926.5 791.5,926.5 792.0,926.5 792.5,926.5 793.0,926.5 793.5,926.5 794.0,926.5 794.5,926.5 795.0,926.5 795.5,926.5 796.0,926.5 796.5,926.5M805.5,926.5 806.0,926.5 806.5,926.5 807.0,926.5 807.5,926.5 808.0,926.5 808.5,926.5 809.0,926.5 809.5,926.5 810.0,926.5 810.5,926.5 811.0,926.5 811.5,926.5 812.0,926.5 812.5,926.5 813.0,926.5 813.5,926.5 814.0,926.5 814.5,926.5 815.0,926.5 815.5,926.5 816.0,926.5 816.5,926.5 817.0,926.5 817.5,926.5 818.0,926.5 818.5,926.5 819.0,926.5 819.5,926.5 820.0,926.5 820.5,926.5 821.0,926.5 821.5,926.5 822.0,926.5 822.5,926.5 823.0,926.5 823.5,926.5 824.0,926.5 824.5,926.5 825.0,926.5 825.5,926.5 826.0,926.5 826.5,926.5M840.0,926.5 840.5,926.5 841.0,926.5 841.5,926.5 842.0,926.5 842.5,926.5 843.0,926.5 843.5,926.5 844.0,926.5 844.5,926.5 845.0,926.5 845.5,926.5 846.0,926.5 846.5,926.5 847.0,926.5 847.5,926.5 848.0,926.5 848.5,926.5 849.0,926.5 849.5,926.5 850.0,926.5 850.5,926.5 851.0,926.5 851.5,926.5 852.0,926.5 852.5,926.5 853.0,926.5 853.5,926.5 854.0,926.5 854.5,926.5 855.0,926.5 855.5,926.5 856.0,926.5M867.5,926.6 868.0,926.6 868.5,926.6 869.0,926.6 869.5,926.6 870.0,926.6 870.5,926.6 871.0,926.6 871.5,926.6 872.0,926.6 872.5,926.6 873.0,926.6 873.5,926.6 874.0,926.6 874.5,926.6 875.0,926.6 875.5,926.6 876.0,926.6 876.5,926.6 877.0,926.6 877.5,926.6 878.0,926.6 878.5,926.6 879.0,926.6 879.5,926.6 880.0,926.6 880.5,926.6 881.0,926.6 881.5,926.6 882.0,926.6 882.5,926.6 883.0,926.6 883.5,926.6 884.0,926.6 884.5,926.6 885.0,926.6 885.5,926.6 886.0,926.6 886.5,926.6 887.0,926.6 887.5,926.6 888.0,926.6 888.5,926.6 889.0,926.6 889.5,926.6 890.0,926.6 890.5,926.6 891.0,926.6 891.5,926.6 892.0,926.6 892.5,926.6 893.0,926.6 893.5,926.6 894.0,926.6 894.5,926.6 895.0,926.6 895.5,926.6 896.0,926.6 896.5,926.6 897.0,926.6 897.5,926.6 898.0,926.6 898.5,926.6 899.0,926.6 899.5,926.6 900.0,926.6 900.5,926.6 901.0,926.6M909.5,926.6 910.0,926.6 910.5,926.6 911.0,926.6 911.5,926.6 912.0,926.6 912.5,926.6 913.0,926.6 913.5,926.6 914.0,926.6 914.5,926.6 915.0,926.6 915.5,926.6 916.0,926.6 916.5,926.6 917.0,926.6 917.5,926.6 918.0,926.6 918.5,926.6 919.0,926.6 919.5,926.6 920.0,926.6 920.5,926.6 921.0,926.6 921.5,926.6 922.0,926.6 922.5,926.6 923.0,926.6 923.5,926.6 924.0,926.6 924.5,926.6 925.0,926.6 925.5,926.6 926.0,926.6 926.5,926.6M941.0,926.6 941.5,926.6 942.0,926.6 942.5,926.6 943.0,926.6 943.5,926.6 944.0,926.6 944.5,926.6 945.0,926.6 945.5,926.6 946.0,926.6 946.5,926.6 947.0,926.6 947.5,926.6 948.0,926.6 948.5,926.6 949.0,926.6 949.5,926.6 950.0,926.6 950.5,926.6 951.0,926.6 951.5,926.6 952.0,926.6 952.5,926.6 953.0,926.6 953.5,926.6 954.0,926.6 954.5,926.6 955.0,926.6 955.5,926.6 956.0,926.6M968.0,926.6 968.5,926.6 969.0,926.6 969.5,926.6 970.0,926.6 970.5,926.6 971.0,926.6 971.5,926.6 972.0,926.6 972.5,926.6 973.0,926.6 973.5,926.6 974.0,926.6 974.5,926.6 975.0,926.6 975.5,926.6 976.0,926.6 976.5,926.6 977.0,926.6 977.5,926.6 978.0,926.6 978.5,926.6 979.0,926.6 979.5,926.6 980.0,926.6 980.5,926.6 981.0,926.6 981.5,926.6 982.0,926.6 982.5,926.6 983.0,926.6 983.5,926.6 984.0,926.6 984.5,926.6 985.0,926.6 985.5,926.6 986.0,926.6M994.0,926.6 994.5,926.6 995.0,926.6 995.5,926.6 996.0,926.6 996.5,926.6 997.0,926.6 997.5,926.6 998.0,926.6 998.5,926.6 999.0,926.6 999.5,926.6 1000.0,926.6 1000.5,926.6 1001.0,926.6 1001.5,926.6 1002.0,926.6 1002.5,926.5 1003.0,926.5 1003.5,926.5 1004.0,926.5 1004.5,926.5 1005.0,926.5 1005.5,926.5 1006.0,926.5 1006.5,926.5 1007.0,926.5 1007.5,926.5 1008.0,926.5 1008.5,926.5 1009.0,926.5 1009.5,926.5 1010.0,926.5 1010.5,926.5 1011.0,926.5 1011.5,926.5M1021.5,926.5 1022.0,926.5 1022.5,926.5 1023.0,926.5 1023.5,926.5 1024.0,926.5 1024.5,926.5 1025.0,926.5 1025.5,926.5 1026.0,926.5 1026.5,926.5 1027.0,926.5 1027.5,926.5 1028.0,926.5 1028.5,926.5 1029.0,926.5 1029.5,926.5 1030.0,926.5 1030.5,926.5 1031.0,926.5 1031.5,926.5 1032.0,926.5 1032.5,926.5 1033.0,926.5 1033.5,926.5 1034.0,926.5 1034.5,926.5 1035.0,926.5 1035.5,926.5 1036.0,926.5 1036.5,926.5 1037.0,926.5 1037.5,926.5M1050.0,926.5 1050.5,926.5 1051.0,926.5 1051.5,926.5 1052.0,926.5 1052.5,926.5 1053.0,926.5 1053.5,926.5 1054.0,926.5 1054.5,926.5 1055.0,926.5 1055.5,926.5 1056.0,926.5 1056.5,926.5 1057.0,926.5 1057.5,926.5 1058.0,926.5 1058.5,926.5 1059.0,926.5 1059.5,926.5 1060.0,926.5 1060.5,926.5 1061.0,926.5 1061.5,926.5 1062.0,926.5 1062.5,926.5 1063.0,926.5 1063.5,926.5 1064.0,926.5 1064.5,926.5 1065.0,926.5 1065.5,926.5 1066.0,926.5M1075.5,926.5 1076.0,926.5 1076.5,926.5 1077.0,926.5 1077.5,926.5 1078.0,926.5 1078.5,926.5 1079.0,926.5 1079.5,926.5 1080.0,926.5 1080.5,926.5 1081.0,926.5 1081.5,926.5 1082.0,926.5 1082.5,926.5 1083.0,926.5 1083.5,926.5 1084.0,926.5 1084.5,926.5 1085.0,926.5 1085.5,926.5 1086.0,926.5 1086.5,926.5 1087.0,926.5 1087.5,926.5 1088.0,926.5 1088.5,926.5 1089.0,926.5 1089.5,926.5M1099.5,926.5 1100.0,926.5 1100.5,926.5 1101.0,926.5 1101.5,926.5 1102.0,926.5 1102.5,926.5 1103.0,926.5 1103.5,926.5 1104.0,926.5 1104.5,926.5 1105.0,926.5 1105.5,926.5 1106.0,926.5 1106.5,926.5 1107.0,926.5 1107.5,926.5 1108.0,926.5 1108.5,926.5 1109.0,926.5 1109.5,926.5 1110.0,926.5 1110.5,926.5 1111.0,926.5 1111.5,926.5 1112.0,926.5 1112.5,926.5 1113.0,926.5 1113.5,926.5 1114.0,926.5 1114.5,926.5 1115.0,926.5 1115.5,926.5 1116.0,926.5 1116.5,926.5 1117.0,926.5 1117.5,926.5 1118.0,926.5 1118.5,926.5 1119.0,926.5M1130.0,926.5 1130.5,926.5 1131.0,926.5 1131.5,926.5 1132.0,926.5 1132.5,926.5 1133.0,926.5 1133.5,926.5 1134.0,926.5 1134.5,926.5 1135.0,926.5 1135.5,926.5 1136.0,926.5 1136.5,926.5 1137.0,926.5 1137.5,926.5 1138.0,926.5 1138.5,926.5 1139.0,926.5 1139.5,926.5 1140.0,926.5 1140.5,926.5 1141.0,926.5 1141.5,926.5 1142.0,926.5 1142.5,926.5 1143.0,926.5 1143.5,926.5 1144.0,926.5 1144.5,926.5 1145.0,926.5 1145.5,926.5 1146.0,926.5 1146.5,926.5 1147.0,926.5 1147.5,926.5M1156.5,926.5 1157.0,926.5 1157.5,926.5 1158.0,926.5 1158.5,926.5 1159.0,926.5 1159.5,926.5 1160.0,926.5 1160.5,926.5 1161.0,926.5 1161.5,926.5 1162.0,926.5 1162.5,926.5 1163.0,926.5 1163.5,926.5 1164.0,926.5 1164.5,926.5 1165.0,926.5 1165.5,926.5 1166.0,926.5 1166.5,926.5 1167.0,926.5 1167.5,926.5 1168.0,926.5 1168.5,926.5 1169.0,926.5 1169.5,926.5 1170.0,926.5 1170.5,926.5 1171.0,926.5 1171.5,926.5M1180.0,926.5 1180.5,926.5 1181.0,926.5 1181.5,926.5 1182.0,926.5 1182.5,926.5 1183.0,926.5 1183.5,926.5 1184.0,926.5 1184.5,926.5 1185.0,926.5 1185.5,926.5 1186.0,926.5 1186.5,926.5 1187.0,926.5 1187.5,926.5 1188.0,926.5 1188.5,926.5 1189.0,926.5 1189.5,926.5 1190.0,926.5 1190.5,926.5 1191.0,926.5 1191.5,926.5 1192.0,926.5 1192.5,926.5 1193.0,926.5 1193.5,926.5 1194.0,926.5 1194.5,926.5 1195.0,926.5 1195.5,926.5 1196.0,926.5 1196.5,926.5 1197.0,926.5" stroke="#f00" stroke-width="5"/>
<path d="M253.0,883.3 C254.8,883.0 260.1,882.4 264.0,881.5 C267.9,880.6 272.9,879.4 276.4,877.9 C279.9,876.4 282.0,874.5 285.1,872.7 C288.2,870.9 291.5,869.3 295.0,867.2 C298.5,865.1 303.1,862.7 306.2,860.3 C309.2,857.9 310.9,855.2 313.3,852.6 C315.7,850.0 318.2,846.1 320.3,844.7 C322.4,843.4 322.8,844.7 325.6,844.5 C328.4,844.3 334.4,844.8 337.0,843.3 C339.6,841.8 339.8,840.1 341.4,835.8 C343.0,831.5 344.9,822.6 346.6,817.3 C348.4,812.0 350.3,807.0 351.9,804.1 C353.5,801.2 354.8,799.6 356.3,799.7 C357.8,799.9 359.1,801.8 360.7,805.0 C362.3,808.2 364.2,815.9 366.0,819.1 C367.8,822.3 369.4,824.1 371.2,824.3 C372.9,824.4 375.1,822.6 376.5,820.0 C377.9,817.4 378.1,813.4 379.3,808.9 C380.5,804.4 381.9,799.5 383.5,792.7 C385.1,785.9 387.2,774.0 388.8,768.1 C390.4,762.2 391.7,757.9 393.2,757.6 C394.7,757.3 396.0,759.7 397.6,766.4 C399.2,773.1 401.1,788.4 402.9,798.0 C404.6,807.6 406.4,818.4 408.1,824.3 C409.9,830.1 411.8,832.2 413.4,833.1 C415.0,834.0 416.5,831.9 417.8,829.6 C419.1,827.3 420.1,823.2 421.4,819.1 C422.7,815.0 424.1,810.9 425.7,805.0 C427.3,799.1 429.4,788.4 431.0,783.9 C432.6,779.4 433.9,777.2 435.4,777.8 C436.9,778.4 438.3,780.2 439.8,787.4 C441.3,794.6 442.7,809.4 444.3,820.8 C445.9,832.2 447.6,848.1 449.4,856.0 C451.2,863.9 452.7,865.3 455.0,868.3 C457.3,871.3 458.3,873.5 463.3,874.0 C468.3,874.5 478.0,872.0 485.0,871.5 C492.0,871.0 498.5,871.0 505.5,871.0 C512.5,871.0 520.0,871.1 527.0,871.5 C534.0,871.9 540.7,872.2 547.5,873.1 C554.3,874.0 561.0,875.7 568.0,877.0 C575.0,878.3 582.5,880.4 589.5,880.7 C596.5,881.0 603.0,879.5 610.0,878.8 C617.0,878.0 624.5,877.8 631.5,876.2 C638.5,874.7 645.0,872.3 652.0,869.5 C659.0,866.7 666.6,864.6 673.5,859.3 C680.4,854.0 687.8,844.0 693.4,837.7 C699.0,831.4 703.4,826.2 707.1,821.7 C710.8,817.2 711.5,817.5 715.6,810.7 C719.7,803.9 726.6,790.3 731.5,781.0 C736.4,771.7 741.3,763.3 745.0,755.0 C748.7,746.7 751.4,738.0 753.5,731.0 C755.6,724.0 756.6,718.3 757.8,713.0 C759.0,707.7 759.6,704.6 760.6,699.3 C761.6,694.0 762.9,687.1 764.0,681.0 C765.1,674.9 766.3,669.6 767.4,662.8 C768.5,655.9 769.6,647.1 770.8,639.9 C771.9,632.7 773.1,625.9 774.3,619.4 C775.4,612.9 776.4,606.8 777.7,601.1 C779.0,595.4 780.8,590.1 782.3,585.1 C783.8,580.1 785.1,576.0 786.8,571.4 C788.5,566.8 790.3,562.1 792.5,557.7 C794.7,553.3 797.7,549.2 800.0,545.0 C802.3,540.8 804.1,536.7 806.3,532.5 C808.5,528.3 810.5,524.2 813.1,520.0 C815.8,515.8 819.2,511.2 822.2,507.4 C825.2,503.6 828.1,500.3 831.4,497.1 C834.7,493.9 838.2,490.1 842.0,488.4 C845.8,486.7 850.6,486.4 854.2,486.9 C857.8,487.4 860.4,488.9 863.4,491.4 C866.4,493.9 869.8,498.3 872.5,501.7 C875.2,505.1 877.5,508.4 879.4,512.0 C881.3,515.6 882.3,519.2 884.0,523.4 C885.7,527.6 887.7,531.8 889.6,537.1 C891.5,542.4 893.7,549.7 895.4,555.4 C897.1,561.1 898.4,566.1 899.9,571.4 C901.4,576.7 903.0,581.3 904.5,587.4 C906.0,593.5 907.6,601.4 909.1,607.9 C910.6,614.4 912.1,620.1 913.6,626.2 C915.1,632.3 916.7,638.4 918.2,644.5 C919.7,650.6 921.5,657.1 922.8,662.8 C924.1,668.5 925.1,673.4 926.2,678.8 C927.3,684.2 927.8,685.2 929.6,695.3 C931.4,705.4 934.2,725.7 936.9,739.2 C939.5,752.7 942.6,764.6 945.5,776.1 C948.4,787.6 951.0,797.0 954.1,808.1 C957.2,819.2 961.6,834.8 964.0,842.5 C966.4,850.2 966.9,850.7 968.5,854.4 C970.1,858.1 970.9,859.3 973.8,864.7 C976.7,870.1 982.0,880.6 986.1,886.8 C990.2,892.9 994.3,898.2 998.4,901.6 C1002.5,905.0 1007.2,905.8 1010.5,907.2 C1013.8,908.6 1014.0,909.3 1018.1,910.2 C1022.2,911.1 1029.6,912.2 1035.3,912.7 C1041.0,913.2 1042.6,913.2 1052.5,913.4 C1062.4,913.6 1080.5,913.7 1094.5,913.9 C1108.5,914.1 1122.7,914.3 1136.7,914.4 C1150.8,914.5 1168.2,914.3 1178.8,914.4 C1189.3,914.5 1196.5,914.9 1200.0,915.0" stroke="#00f" stroke-width="5.3"/>
<circle cx="253" cy="883.3" r="8.1" fill="#fff" stroke="#00f" stroke-width="2"/>
<circle cx="295" cy="867.2" r="8.1" fill="#fff" stroke="#00f" stroke-width="2"/>
<circle cx="337" cy="843.3" r="8.1" fill="#fff" stroke="#00f" stroke-width="2"/>
<circle cx="379.3" cy="808.9" r="8.1" fill="#fff" stroke="#00f" stroke-width="2"/>
<circle cx="421.4" cy="819.1" r="8.1" fill="#fff" stroke="#00f" stroke-width="2"/>
<circle cx="463.3" cy="874" r="8.1" fill="#fff" stroke="#00f" stroke-width="2"/>
<circle cx="505.5" cy="871" r="8.1" fill="#fff" stroke="#00f" stroke-width="2"/>
<circle cx="547.5" cy="873.1" r="8.1" fill="#fff" stroke="#00f" stroke-width="2"/>
<circle cx="589.5" cy="880.7" r="8.1" fill="#fff" stroke="#00f" stroke-width="2"/>
<circle cx="631.5" cy="876.2" r="8.1" fill="#fff" stroke="#00f" stroke-width="2"/>
<circle cx="673.5" cy="859.3" r="8.1" fill="#fff" stroke="#00f" stroke-width="2"/>
<circle cx="715.6" cy="810.7" r="8.1" fill="#fff" stroke="#00f" stroke-width="2"/>
<circle cx="757.8" cy="713" r="8.1" fill="#fff" stroke="#00f" stroke-width="2"/>
<circle cx="800" cy="545" r="8.1" fill="#fff" stroke="#00f" stroke-width="2"/>
<circle cx="842" cy="488.4" r="8.1" fill="#fff" stroke="#00f" stroke-width="2"/>
<circle cx="884" cy="523.4" r="8.1" fill="#fff" stroke="#00f" stroke-width="2"/>
<circle cx="926.2" cy="678.8" r="8.1" fill="#fff" stroke="#00f" stroke-width="2"/>
<circle cx="968.5" cy="854.4" r="8.1" fill="#fff" stroke="#00f" stroke-width="2"/>
<circle cx="1010.5" cy="907.2" r="8.1" fill="#fff" stroke="#00f" stroke-width="2"/>
<circle cx="1052.5" cy="913.4" r="8.1" fill="#fff" stroke="#00f" stroke-width="2"/>
<circle cx="1094.5" cy="913.9" r="8.1" fill="#fff" stroke="#00f" stroke-width="2"/>
<circle cx="1136.7" cy="914.4" r="8.1" fill="#fff" stroke="#00f" stroke-width="2"/>
<circle cx="1178.8" cy="914.4" r="8.1" fill="#fff" stroke="#00f" stroke-width="2"/>
</g>
<g filter="url(#bin)">
<text x="226" y="949" font-family="Liberation Sans" font-size="75" text-anchor="end">0.0</text>
<text x="226" y="750" font-family="Liberation Sans" font-size="75" text-anchor="end">0.2</text>
<text x="226" y="551" font-family="Liberation Sans" font-size="75" text-anchor="end">0.4</text>
<text x="226" y="352" font-family="Liberation Sans" font-size="75" text-anchor="end">0.6</text>
<text x="226" y="153" font-family="Liberation Sans" font-size="75" text-anchor="end">0.8</text>
<text x="253.5" y="1019" font-family="Liberation Sans" font-size="76" text-anchor="middle">300</text>
<text x="464.0" y="1019" font-family="Liberation Sans" font-size="76" text-anchor="middle">400</text>
<text x="674.5" y="1019" font-family="Liberation Sans" font-size="76" text-anchor="middle">500</text>
<text x="885.0" y="1019" font-family="Liberation Sans" font-size="76" text-anchor="middle">600</text>
<text x="1095.5" y="1019" font-family="Liberation Sans" font-size="76" text-anchor="middle">700</text>
<text x="430.5" y="1103" font-family="Liberation Sans" font-size="76" textLength="419.0" lengthAdjust="spacingAndGlyphs">Wavelength</text>
<text x="868.6" y="1103" font-family="Liberation Sans" font-size="76" textLength="23.0" lengthAdjust="spacingAndGlyphs">/</text>
<text x="912.5" y="1103" font-family="Liberation Sans" font-size="76" textLength="110.5" lengthAdjust="spacingAndGlyphs">nm</text>
<text transform="translate(84,703) rotate(-90)" x="0" y="0" font-family="Liberation Sans" font-size="73.5" textLength="385" lengthAdjust="spacingAndGlyphs">Absorbance</text>
</g>
<rect x="754" y="141" width="155" height="4" fill="#000"/>
<line x1="754" y1="222.5" x2="910" y2="222.5" stroke="#f00" stroke-width="4.6" stroke-dasharray="20 15"/>
<line x1="754" y1="302.5" x2="910" y2="302.5" stroke="#00f" stroke-width="5"/>
<circle cx="831.5" cy="302" r="8.1" fill="#fff" stroke="#00f" stroke-width="2"/>
<g stroke="#000" stroke-width="0.8" filter="url(#bin)"><text x="925" y="166" font-family="Liberation Sans" font-size="68">AN</text>
<text x="925" y="244.7" font-family="Liberation Sans" font-size="68">BDP</text>
<text x="925" y="324.2" font-family="Liberation Sans" font-size="68">AN-BDP</text></g>
</svg>
</body></html>
